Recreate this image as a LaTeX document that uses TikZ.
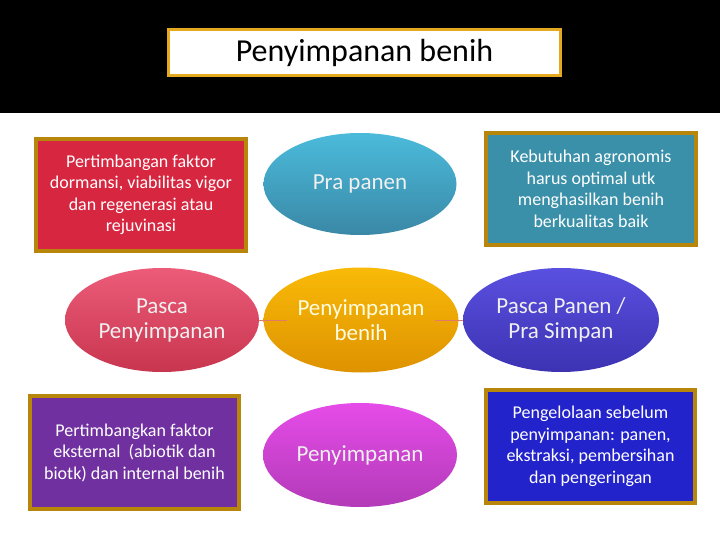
\documentclass[tikz,border=0pt]{standalone}
\usepackage{fontspec}
\setmainfont{Carlito}
\usetikzlibrary{shapes.geometric}

\definecolor{titlegold}{HTML}{E5A91F}
\definecolor{boxgold}{HTML}{B8860B}
\definecolor{faktorred}{HTML}{D7263F}
\definecolor{agroteal}{HTML}{3A90A9}
\definecolor{eksternpurple}{HTML}{7030A0}
\definecolor{kelolablue}{HTML}{2323CC}
\definecolor{linkred}{HTML}{E07A6A}
\definecolor{pratop}{HTML}{4BBBDB}
\definecolor{prabot}{HTML}{3A88A6}
\definecolor{pascatop}{HTML}{EC5C78}
\definecolor{pascabot}{HTML}{C8354F}
\definecolor{benihtop}{HTML}{F9BA08}
\definecolor{benihbot}{HTML}{DE9200}
\definecolor{panentop}{HTML}{5A50E0}
\definecolor{panenbot}{HTML}{3C32B2}
\definecolor{simpantop}{HTML}{E64CE8}
\definecolor{simpanbot}{HTML}{B23AB8}

\tikzset{
    infobox/.style={rectangle, draw=boxgold, line width=4pt, text=white, align=center,
        inner sep=0pt, minimum width=210pt, minimum height=112pt,
        font=\fontsize{18}{21.5}\selectfont},
    stage/.style={ellipse, inner sep=0pt, minimum width=194pt, minimum height=104pt,
        text=white!94!black, align=center, font=\fontsize{23}{25}\selectfont},
    link/.style={draw=linkred, line width=0.8pt}
}

\begin{document}
\begin{tikzpicture}[x=1pt, y=-1pt]
    \useasboundingbox (0,0) rectangle (720,540);
    \fill[black] (0,0) rectangle (720,113);
    \node[draw=titlegold, line width=3pt, fill=white, minimum width=392pt, minimum height=46pt,
        inner sep=0pt, font=\fontsize{32}{34}\selectfont] (judul) at (364.5,52.5) {Penyimpanan benih};

    % kotak keterangan
    \node[infobox, fill=faktorred] (dormansi) at (141,195)
        {Pertimbangan faktor\\dormansi, viabilitas vigor\\dan regenerasi atau\\rejuvinasi};
    \node[infobox, fill=agroteal] (agronomis) at (591,189)
        {Kebutuhan agronomis\\harus optimal utk\\menghasilkan benih\\berkualitas baik};
    \node[infobox, fill=eksternpurple, minimum width=209pt, minimum height=113pt] (eksternal) at (134.5,452.5)
        {Pertimbangkan faktor\\eksternal \ (abiotik dan\\biotk) dan internal benih};
    \node[infobox, fill=kelolablue, minimum width=209pt, minimum height=113pt] (kelola) at (590.5,446.5)
        {Pengelolaan sebelum\\penyimpanan: panen,\\ekstraksi, pembersihan\\dan pengeringan};

    % tahap
    \node[stage, top color=pratop, bottom color=prabot, minimum width=193pt, minimum height=102pt] (prapanen) at (360,184) {Pra panen};
    \node[stage, top color=pascatop, bottom color=pascabot] (pasca) at (162,320) {Pasca\\Penyimpanan};
    \node[stage, top color=benihtop, bottom color=benihbot, minimum width=195pt, minimum height=105pt] (benih) at (361,320) {};
    \node[stage, top color=panentop, bottom color=panenbot, minimum width=196pt] (panen) at (561,320) {Pasca Panen /\\Pra Simpan};
    \node[stage, top color=simpantop, bottom color=simpanbot] (simpan) at (360,455) {Penyimpanan};

    \node[inner xsep=10pt, font=\fontsize{23}{25}\selectfont, align=center, text=yellow!12] (benihlabel) at (361,320) {Penyimpanan\\benih};
    \draw[link] (pasca.east) -- (benihlabel.west);
    \draw[link] (benihlabel.east) -- (panen.west);
\end{tikzpicture}
\end{document}
